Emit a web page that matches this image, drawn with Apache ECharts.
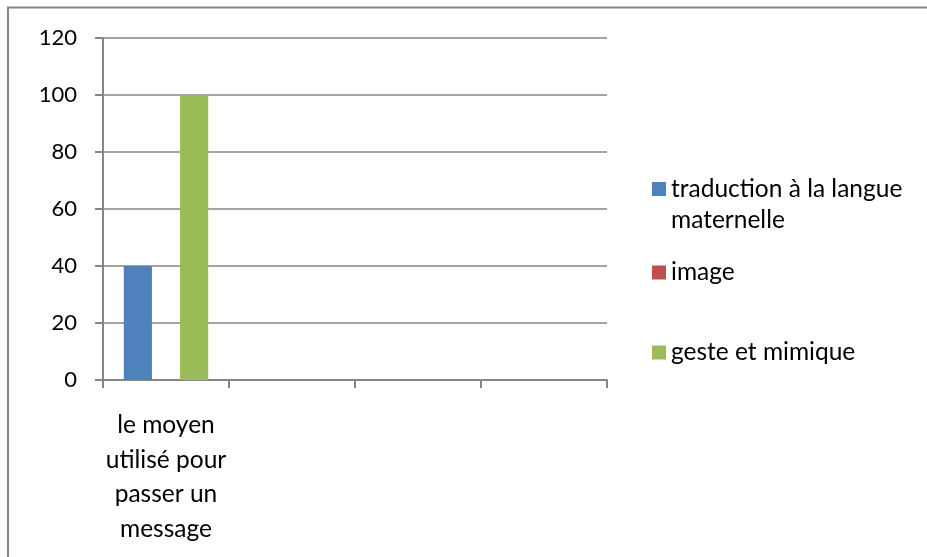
<!DOCTYPE html>
<html>
<head>
<meta charset="utf-8">
<script src="https://cdn.jsdelivr.net/npm/echarts@6/dist/echarts.min.js"></script>
<style>
  html, body { margin: 0; padding: 0; background: #fff; }
  #chart { width: 927px; height: 557px; }
</style>
</head>
<body>
<div id="chart"></div>
<script>
// categories on the x axis (only the first one carries a label)
var categories = ['le moyen\nutilisé pour\npasser un\nmessage', '', '', ''];
var seriesNames = ['traduction à la langue\nmaternelle', 'image', 'geste et mimique'];
var traduction = [40, null, null, null];
var image = [0, null, null, null];
var geste = [100, null, null, null];
var colors = ['#4F81BD', '#C0504D', '#9BBB59'];

var font = 'Lato';
var gridColor = '#868686';

var chart = echarts.init(document.getElementById('chart'));

function legendItem(name, top, lineHeight, formatter) {
  var l = {
    data: [name],
    orient: 'vertical',
    left: 652,
    top: top,
    padding: 0,
    itemWidth: 14,
    itemHeight: 14,
    icon: 'rect',
    selectedMode: false,
    textStyle: { fontFamily: font, fontSize: 24.5, color: '#000', lineHeight: lineHeight }
  };
  if (formatter) l.formatter = formatter;
  return l;
}

var option = {
  animation: false,
  color: colors,
  graphic: [{
    type: 'rect',
    shape: { x: 8, y: 7.5, width: 1000, height: 1000 },
    style: { fill: 'none', stroke: gridColor, lineWidth: 2 },
    silent: true
  }],
  legend: [
    // blank first line keeps the icon level with the first text line
    legendItem(seriesNames[0], 142.5, 31, function (n) { return '\n' + n; }),
    legendItem(seriesNames[1], 260, 14),
    legendItem(seriesNames[2], 340, 14)
  ],
  grid: { left: 103, right: 320, top: 38, bottom: 177 },
  xAxis: {
    type: 'category',
    data: categories,
    axisLine: { lineStyle: { color: gridColor, width: 2 } },
    axisTick: { show: true, interval: 0, length: 8, lineStyle: { color: gridColor, width: 2 } },
    axisLabel: {
      interval: 0, margin: 28,
      fontFamily: font, fontSize: 24.5, color: '#000', lineHeight: 34.5
    },
    splitLine: { show: false }
  },
  yAxis: {
    type: 'value',
    min: 0, max: 120, interval: 20,
    axisLine: { show: true, lineStyle: { color: gridColor, width: 2 } },
    axisTick: { show: true, inside: false, length: 8, lineStyle: { color: gridColor, width: 2 } },
    axisLabel: { margin: 26, fontFamily: font, fontSize: 22, color: '#000' },
    splitLine: { show: true, lineStyle: { color: gridColor, width: 1.5 } }
  },
  series: [
    { name: seriesNames[0], type: 'bar', data: traduction, barGap: '0%', barCategoryGap: '33%' },
    { name: seriesNames[1], type: 'bar', data: image, barGap: '0%', barCategoryGap: '33%' },
    { name: seriesNames[2], type: 'bar', data: geste, barGap: '0%', barCategoryGap: '33%' }
  ]
};

chart.setOption(option);
</script>
</body>
</html>
